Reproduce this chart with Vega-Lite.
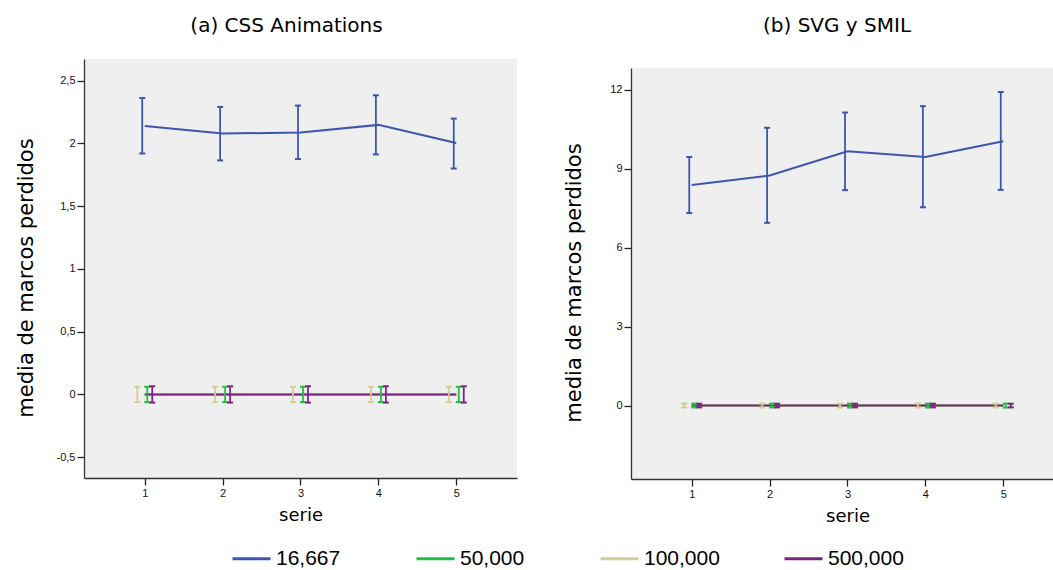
{
  "$schema": "https://vega.github.io/schema/vega-lite/v6.json",
  "background": "white",
  "padding": {"left": 15, "top": 16, "right": 0, "bottom": 0},
  "datasets": {
    "d": [
      {"panel": "a", "serie": 1, "grupo": "16,667", "media": 2.14, "inf": 1.92, "sup": 2.362},
      {"panel": "a", "serie": 2, "grupo": "16,667", "media": 2.079, "inf": 1.865, "sup": 2.291},
      {"panel": "a", "serie": 3, "grupo": "16,667", "media": 2.087, "inf": 1.876, "sup": 2.302},
      {"panel": "a", "serie": 4, "grupo": "16,667", "media": 2.148, "inf": 1.913, "sup": 2.384},
      {"panel": "a", "serie": 5, "grupo": "16,667", "media": 2.003, "inf": 1.8, "sup": 2.198},
      {"panel": "a", "serie": 1, "grupo": "50,000", "media": 0, "inf": -0.061, "sup": 0.061},
      {"panel": "a", "serie": 2, "grupo": "50,000", "media": 0, "inf": -0.061, "sup": 0.061},
      {"panel": "a", "serie": 3, "grupo": "50,000", "media": 0, "inf": -0.061, "sup": 0.061},
      {"panel": "a", "serie": 4, "grupo": "50,000", "media": 0, "inf": -0.061, "sup": 0.061},
      {"panel": "a", "serie": 5, "grupo": "50,000", "media": 0, "inf": -0.061, "sup": 0.061},
      {"panel": "a", "serie": 1, "grupo": "100,000", "media": 0, "inf": -0.061, "sup": 0.061},
      {"panel": "a", "serie": 2, "grupo": "100,000", "media": 0, "inf": -0.061, "sup": 0.061},
      {"panel": "a", "serie": 3, "grupo": "100,000", "media": 0, "inf": -0.061, "sup": 0.061},
      {"panel": "a", "serie": 4, "grupo": "100,000", "media": 0, "inf": -0.061, "sup": 0.061},
      {"panel": "a", "serie": 5, "grupo": "100,000", "media": 0, "inf": -0.061, "sup": 0.061},
      {"panel": "a", "serie": 1, "grupo": "500,000", "media": 0, "inf": -0.065, "sup": 0.065},
      {"panel": "a", "serie": 2, "grupo": "500,000", "media": 0, "inf": -0.065, "sup": 0.065},
      {"panel": "a", "serie": 3, "grupo": "500,000", "media": 0, "inf": -0.065, "sup": 0.065},
      {"panel": "a", "serie": 4, "grupo": "500,000", "media": 0, "inf": -0.065, "sup": 0.065},
      {"panel": "a", "serie": 5, "grupo": "500,000", "media": 0, "inf": -0.065, "sup": 0.065},
      {"panel": "b", "serie": 1, "grupo": "16,667", "media": 8.38, "inf": 7.31, "sup": 9.44},
      {"panel": "b", "serie": 2, "grupo": "16,667", "media": 8.735, "inf": 6.94, "sup": 10.55},
      {"panel": "b", "serie": 3, "grupo": "16,667", "media": 9.66, "inf": 8.18, "sup": 11.13},
      {"panel": "b", "serie": 4, "grupo": "16,667", "media": 9.44, "inf": 7.53, "sup": 11.37},
      {"panel": "b", "serie": 5, "grupo": "16,667", "media": 10.04, "inf": 8.19, "sup": 11.91},
      {"panel": "b", "serie": 1, "grupo": "50,000", "media": 0, "inf": -0.075, "sup": 0.075},
      {"panel": "b", "serie": 2, "grupo": "50,000", "media": 0, "inf": -0.075, "sup": 0.075},
      {"panel": "b", "serie": 3, "grupo": "50,000", "media": 0, "inf": -0.075, "sup": 0.075},
      {"panel": "b", "serie": 4, "grupo": "50,000", "media": 0, "inf": -0.075, "sup": 0.075},
      {"panel": "b", "serie": 5, "grupo": "50,000", "media": 0, "inf": -0.075, "sup": 0.075},
      {"panel": "b", "serie": 1, "grupo": "100,000", "media": 0, "inf": -0.075, "sup": 0.075},
      {"panel": "b", "serie": 2, "grupo": "100,000", "media": 0, "inf": -0.075, "sup": 0.075},
      {"panel": "b", "serie": 3, "grupo": "100,000", "media": 0, "inf": -0.075, "sup": 0.075},
      {"panel": "b", "serie": 4, "grupo": "100,000", "media": 0, "inf": -0.075, "sup": 0.075},
      {"panel": "b", "serie": 5, "grupo": "100,000", "media": 0, "inf": -0.075, "sup": 0.075},
      {"panel": "b", "serie": 1, "grupo": "500,000", "media": 0, "inf": -0.07, "sup": 0.07},
      {"panel": "b", "serie": 2, "grupo": "500,000", "media": 0, "inf": -0.07, "sup": 0.07},
      {"panel": "b", "serie": 3, "grupo": "500,000", "media": 0, "inf": -0.07, "sup": 0.07},
      {"panel": "b", "serie": 4, "grupo": "500,000", "media": 0, "inf": -0.07, "sup": 0.07},
      {"panel": "b", "serie": 5, "grupo": "500,000", "media": 0, "inf": -0.07, "sup": 0.07}
    ]
  },
  "data": {"name": "d"},
  "spacing": 46,
  "config": {
    "view": {"stroke": null, "fill": "#efefef"},
    "title": {"font": "DejaVu Sans", "fontSize": 20, "fontWeight": "normal", "color": "#000000", "anchor": "middle"},
    "tick": {"opacity": 1},
    "axis": {
      "domainColor": "#333333", "domainWidth": 1.3, "tickColor": "#222222", "tickSize": 7, "tickWidth": 1.3,
      "labelFont": "Liberation Sans", "labelFontSize": 11, "labelColor": "#111111", "labelPadding": 2,
      "titleFont": "DejaVu Sans", "titleFontWeight": "normal", "titleColor": "#000000", "grid": false
    }
  },
  "hconcat": [
    {
      "width": 433, "height": 419,
      "title": {"text": "(a) CSS Animations", "offset": 23, "dx": -14},
      "transform": [{"filter": "datum.panel === 'a'"}],
      "encoding": {
        "x": {"field": "serie", "type": "quantitative", "scale": {"domain": [0.22, 5.78], "nice": false, "zero": false},
              "axis": {"values": [1, 2, 3, 4, 5], "title": "serie", "titleFontSize": 18, "titlePadding": 8}},
        "color": {"field": "grupo", "type": "nominal",
                  "scale": {"domain": ["16,667", "50,000", "100,000", "500,000"], "range": ["#3c56b0", "#22bf40", "#d5cd97", "#7c2480"]},
                  "legend": {"orient": "none", "direction": "horizontal", "columns": 4, "gridAlign": "all", "columnPadding": 58,
                             "legendX": 147, "legendY": 479, "title": null, "symbolType": "stroke", "symbolSize": 1444,
                             "symbolStrokeWidth": 3, "symbolOpacity": 1, "labelFont": "Liberation Sans", "labelFontSize": 21, "labelColor": "#000000",
                             "labelOffset": 4, "padding": 0}}
      },
      "layer": [
        {"mark": {"type": "line", "strokeWidth": 2},
         "encoding": {"y": {"field": "media", "type": "quantitative", "title": "media de marcos perdidos",
                            "scale": {"domain": [-0.666, 2.673], "nice": false, "zero": false},
                            "axis": {"values": [-0.5, 0, 0.5, 1, 1.5, 2, 2.5], "labelExpr": "replace(replace(format(datum.value, '~g'), '.', ','), '\u2212', '-')", "titleFontSize": 21, "titlePadding": 20, "titleY": 218.5}}}},
        {"transform": [{"filter": "datum.grupo === '100,000'"}],
         "layer": [
           {"mark": {"type": "rule", "strokeWidth": 1.8, "xOffset": -7.5}, "encoding": {"y": {"field": "inf", "type": "quantitative", "title": "media de marcos perdidos"}, "y2": {"field": "sup"}}},
           {"mark": {"type": "tick", "orient": "horizontal", "size": 6, "thickness": 2, "xOffset": -7.5}, "encoding": {"y": {"field": "inf", "type": "quantitative", "title": "media de marcos perdidos"}}},
           {"mark": {"type": "tick", "orient": "horizontal", "size": 6, "thickness": 2, "xOffset": -7.5}, "encoding": {"y": {"field": "sup", "type": "quantitative", "title": "media de marcos perdidos"}}}
         ]},
        {"transform": [{"filter": "datum.grupo === '16,667'"}],
         "layer": [
           {"mark": {"type": "rule", "strokeWidth": 1.8, "xOffset": -2.5}, "encoding": {"y": {"field": "inf", "type": "quantitative", "title": "media de marcos perdidos"}, "y2": {"field": "sup"}}},
           {"mark": {"type": "tick", "orient": "horizontal", "size": 6, "thickness": 2, "xOffset": -2.5}, "encoding": {"y": {"field": "inf", "type": "quantitative", "title": "media de marcos perdidos"}}},
           {"mark": {"type": "tick", "orient": "horizontal", "size": 6, "thickness": 2, "xOffset": -2.5}, "encoding": {"y": {"field": "sup", "type": "quantitative", "title": "media de marcos perdidos"}}}
         ]},
        {"transform": [{"filter": "datum.grupo === '50,000'"}],
         "layer": [
           {"mark": {"type": "rule", "strokeWidth": 1.8, "xOffset": 2.5}, "encoding": {"y": {"field": "inf", "type": "quantitative", "title": "media de marcos perdidos"}, "y2": {"field": "sup"}}},
           {"mark": {"type": "tick", "orient": "horizontal", "size": 6, "thickness": 2, "xOffset": 2.5}, "encoding": {"y": {"field": "inf", "type": "quantitative", "title": "media de marcos perdidos"}}},
           {"mark": {"type": "tick", "orient": "horizontal", "size": 6, "thickness": 2, "xOffset": 2.5}, "encoding": {"y": {"field": "sup", "type": "quantitative", "title": "media de marcos perdidos"}}}
         ]},
        {"transform": [{"filter": "datum.grupo === '500,000'"}],
         "layer": [
           {"mark": {"type": "rule", "strokeWidth": 1.8, "xOffset": 7.5}, "encoding": {"y": {"field": "inf", "type": "quantitative", "title": "media de marcos perdidos"}, "y2": {"field": "sup"}}},
           {"mark": {"type": "tick", "orient": "horizontal", "size": 6, "thickness": 2, "xOffset": 7.5}, "encoding": {"y": {"field": "inf", "type": "quantitative", "title": "media de marcos perdidos"}}},
           {"mark": {"type": "tick", "orient": "horizontal", "size": 6, "thickness": 2, "xOffset": 7.5}, "encoding": {"y": {"field": "sup", "type": "quantitative", "title": "media de marcos perdidos"}}}
         ]}
      ]
    },
    {
      "spacing": 0,
      "vconcat": [
        {
          "width": 433, "height": 8.4,
          "data": {"values": []},
          "mark": {"type": "point"},
          "view": {"fill": null, "stroke": null},
          "title": {"text": "(b) SVG y SMIL", "offset": 23, "dx": -10.5}
        },
        {
          "width": 433, "height": 411,
          "transform": [{"filter": "datum.panel === 'b'"}],
          "encoding": {
            "x": {"field": "serie", "type": "quantitative", "scale": {"domain": [0.22, 5.78], "nice": false, "zero": false},
                  "axis": {"values": [1, 2, 3, 4, 5], "title": "serie", "titleFontSize": 18, "titlePadding": 8}},
            "color": {"field": "grupo", "type": "nominal",
                      "scale": {"domain": ["16,667", "50,000", "100,000", "500,000"], "range": ["#3c56b0", "#22bf40", "#d5cd97", "#7c2480"]}}
          },
          "layer": [
            {"mark": {"type": "line", "strokeWidth": 2},
             "encoding": {"y": {"field": "media", "type": "quantitative", "title": "media de marcos perdidos",
                                "scale": {"domain": [-2.79, 12.82], "nice": false, "zero": false},
                                "axis": {"values": [0, 3, 6, 9, 12], "titleFontSize": 21, "titlePadding": 25, "titleY": 214.5}}}},
            {"transform": [{"filter": "datum.grupo === '100,000'"}],
             "layer": [
               {"mark": {"type": "rule", "strokeWidth": 1.8, "xOffset": -7.5}, "encoding": {"y": {"field": "inf", "type": "quantitative", "title": "media de marcos perdidos"}, "y2": {"field": "sup"}}},
               {"mark": {"type": "tick", "orient": "horizontal", "size": 6, "thickness": 2, "xOffset": -7.5}, "encoding": {"y": {"field": "inf", "type": "quantitative", "title": "media de marcos perdidos"}}},
               {"mark": {"type": "tick", "orient": "horizontal", "size": 6, "thickness": 2, "xOffset": -7.5}, "encoding": {"y": {"field": "sup", "type": "quantitative", "title": "media de marcos perdidos"}}}
             ]},
            {"transform": [{"filter": "datum.grupo === '16,667'"}],
             "layer": [
               {"mark": {"type": "rule", "strokeWidth": 1.8, "xOffset": -2.5}, "encoding": {"y": {"field": "inf", "type": "quantitative", "title": "media de marcos perdidos"}, "y2": {"field": "sup"}}},
               {"mark": {"type": "tick", "orient": "horizontal", "size": 6, "thickness": 2, "xOffset": -2.5}, "encoding": {"y": {"field": "inf", "type": "quantitative", "title": "media de marcos perdidos"}}},
               {"mark": {"type": "tick", "orient": "horizontal", "size": 6, "thickness": 2, "xOffset": -2.5}, "encoding": {"y": {"field": "sup", "type": "quantitative", "title": "media de marcos perdidos"}}}
             ]},
            {"transform": [{"filter": "datum.grupo === '50,000'"}],
             "layer": [
               {"mark": {"type": "rule", "strokeWidth": 1.8, "xOffset": 2.5}, "encoding": {"y": {"field": "inf", "type": "quantitative", "title": "media de marcos perdidos"}, "y2": {"field": "sup"}}},
               {"mark": {"type": "tick", "orient": "horizontal", "size": 6, "thickness": 2, "xOffset": 2.5}, "encoding": {"y": {"field": "inf", "type": "quantitative", "title": "media de marcos perdidos"}}},
               {"mark": {"type": "tick", "orient": "horizontal", "size": 6, "thickness": 2, "xOffset": 2.5}, "encoding": {"y": {"field": "sup", "type": "quantitative", "title": "media de marcos perdidos"}}}
             ]},
            {"transform": [{"filter": "datum.grupo === '500,000'"}],
             "layer": [
               {"mark": {"type": "rule", "strokeWidth": 1.8, "xOffset": 7.5}, "encoding": {"y": {"field": "inf", "type": "quantitative", "title": "media de marcos perdidos"}, "y2": {"field": "sup"}}},
               {"mark": {"type": "tick", "orient": "horizontal", "size": 6, "thickness": 2, "xOffset": 7.5}, "encoding": {"y": {"field": "inf", "type": "quantitative", "title": "media de marcos perdidos"}}},
               {"mark": {"type": "tick", "orient": "horizontal", "size": 6, "thickness": 2, "xOffset": 7.5}, "encoding": {"y": {"field": "sup", "type": "quantitative", "title": "media de marcos perdidos"}}}
             ]}
          ]
        }
      ]
    }
  ]
}
